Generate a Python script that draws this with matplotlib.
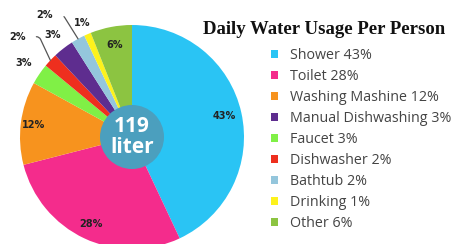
import matplotlib
matplotlib.use('Agg')
import matplotlib.pyplot as plt
from matplotlib.patches import Circle
import numpy as np

# ---- data ----
categories = ["Shower", "Toilet", "Washing Mashine", "Faucet", "Dishwasher",
              "Manual Dishwashing", "Bathtub", "Drinking", "Other"]
values = [43, 28, 12, 3, 2, 3, 2, 1, 6]
colors = ["#2ac4f4", "#f42c8c", "#f7931e", "#80f046", "#ee2f1e",
          "#5e2d8f", "#94c6dc", "#fdf21c", "#8cc441"]
legend_order = ["Shower", "Toilet", "Washing Mashine", "Manual Dishwashing",
                "Faucet", "Dishwasher", "Bathtub", "Drinking", "Other"]
center_value = 119
center_unit = "liter"
title = "Daily Water Usage Per Person"

# ---- layout ----
W, H = 454, 244
fig = plt.figure(figsize=(W / 100, H / 100), dpi=100)
cx, cy, R = 132, 137, 112
ax = fig.add_axes([(cx - R) / W, (H - cy - R) / H, 2 * R / W, 2 * R / H])
wedges, _ = ax.pie(values, colors=colors, startangle=90, counterclock=False,
                   radius=1, wedgeprops=dict(linewidth=0))
ax.set_xlim(-1, 1)
ax.set_ylim(-1, 1)
ax.set_aspect('equal')
ax.axis('off')

lab_kw = dict(fontsize=7, fontweight='bold', color='#222222',
              ha='center', va='center', family='DejaVu Sans')
# label placement style: (mode, distance)
placement = {"Shower": ("in", 0.84), "Toilet": ("in", 0.86),
             "Washing Mashine": ("in", 0.89), "Other": ("in", 0.84),
             "Faucet": ("out", 1.17), "Manual Dishwashing": ("out", 1.15),
             "Drinking": ("out", 1.11),
             "Dishwasher": ("lead", 115), "Bathtub": ("lead", 122)}

for w, cat, v in zip(wedges, categories, values):
    mid = np.deg2rad((w.theta1 + w.theta2) / 2)
    mode, p = placement[cat]
    txt = f"{v}%"
    if mode in ("in", "out"):
        ax.text(p * np.cos(mid), p * np.sin(mid), txt, **lab_kw)
    else:
        ax.annotate(txt, xy=(np.cos(mid), np.sin(mid)), xytext=(-24, 17),
                    textcoords='offset points',
                    arrowprops=dict(arrowstyle='-', color='#555555', lw=0.9,
                                    shrinkA=6, shrinkB=0,
                                    connectionstyle=f"angle,angleA=0,angleB={p},rad=3"),
                    **lab_kw)

ax.add_patch(Circle((0, 0), 32 / R, color='#4b9fbe', zorder=3, lw=0))
ax.text(0, 0, f"{center_value}\n{center_unit}", ha='center', va='center',
        color='white', fontsize=15, fontweight='bold', family='Open Sans',
        linespacing=1.0, zorder=4)

fig.text(324 / W, 1 - 29 / H, title, ha='center', va='center',
         family='Liberation Serif', fontweight='bold', fontsize=13.5, color='#111111')

handles = [wedges[categories.index(c)] for c in legend_order]
labels = [f"{c} {values[categories.index(c)]}%" for c in legend_order]
fig.legend(handles, labels, loc='upper left', bbox_to_anchor=(271 / W, 1 - 48 / H),
           frameon=False, handlelength=0.5, handleheight=0.5, handletextpad=0.85,
           labelspacing=0.42, borderaxespad=0, borderpad=0,
           prop=dict(family='Open Sans', size=10.3), labelcolor='#444444')

fig.savefig('out.png', dpi=100)
